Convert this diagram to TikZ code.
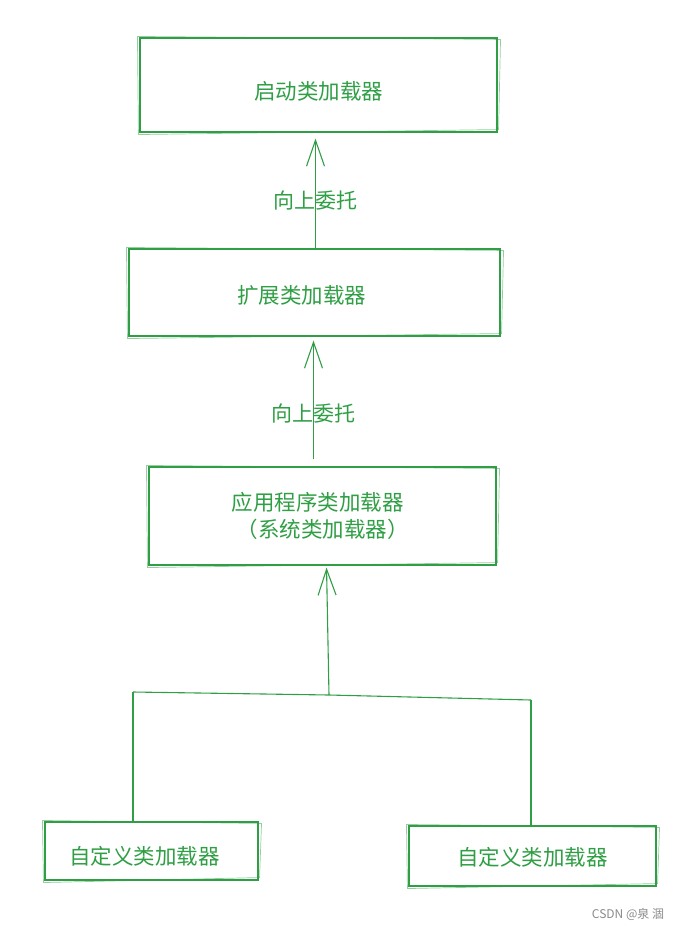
\documentclass[tikz,border=0pt]{standalone}
\usepackage{fontspec}
\newfontfamily\cjk{Noto Sans CJK SC}
\usetikzlibrary{arrows.meta,positioning,calc}
\definecolor{sketch}{HTML}{2F9E44}
\definecolor{wmgray}{HTML}{8A8A8A}
\tikzset{
  box/.style={draw=sketch, line width=1.1pt, align=center, text=sketch,
              font=\cjk\fontsize{21.5}{27}\selectfont, inner sep=0pt},
  rough/.style={draw=sketch, line width=0.7pt, opacity=0.5},
  ar/.style={-{Straight Barb[length=26pt, width=18pt]}, line width=1.1pt, draw=sketch},
  ln/.style={line width=1.1pt, draw=sketch},
  lbl/.style={text=sketch, font=\cjk\fontsize{21}{24}\selectfont}
}
% second, slightly skewed stroke round a box
\newcommand{\roughbox}[1]{%
  \draw[rough] ([shift={(-2,-1)}]#1.north west) -- ([shift={(3,2)}]#1.north east)
    -- ([shift={(1,-3)}]#1.south east) -- ([shift={(-1,2)}]#1.south west) -- cycle;}
% move a text down without changing its size
\newcommand{\sinktext}[2]{\raisebox{-#1}[\height][\depth]{#2}}

\begin{document}
\begin{tikzpicture}[x=1pt,y=-1pt]
  \useasboundingbox (0,0) rectangle (682,930);

  % loaders
  \node[box, minimum width=357, minimum height=94] (boot) at (318.5,85)
    {\sinktext{6pt}{启动类加载器}};
  \node[box, minimum width=371, minimum height=87] (ext) at (314.5,292.5)
    {\hspace*{-26pt}\sinktext{3pt}{扩展类加载器}};
  \node[box, minimum width=347, minimum height=98] (app) at (322.5,516)
    {\hspace*{-10pt}应用程序类加载器\\（系统类加载器）};
  \node[box, minimum width=213, minimum height=58] (custa) at (151.5,851)
    {\hspace*{-14pt}\sinktext{5pt}{自定义类加载器}};
  \node[box, minimum width=247, minimum height=60] (custb) at (532.5,856)
    {\sinktext{1pt}{自定义类加载器}};
  \roughbox{boot}
  \roughbox{ext}
  \roughbox{app}
  \roughbox{custa}
  \roughbox{custb}

  % delegation upwards
  \draw[ar, shorten >=6pt] ([xshift=1]ext.north) -- ([xshift=-3]boot.south)
    node[lbl, pos=0.41] (up1) {向上委托};
  \draw[ar, shorten >=4pt, shorten <=7pt] ([xshift=-9]app.north) -- ([xshift=-1]ext.south)
    node[lbl, pos=0.41] (up2) {向上委托};

  % tree from the custom loaders
  \coordinate (jl) at (133,692);
  \coordinate (jm) at (329,695);
  \coordinate (jr) at (531,700);
  \draw[ln] (jl) -- (jm) -- (jr);
  \draw[ln] (jl) -- (jl |- custa.north);
  \draw[ln] (jr) -- (jr |- custb.north);
  \draw[ar, shorten >=2pt] (jm) -- ([xshift=4]app.south);

  \node[text=wmgray, font=\cjk\fontsize{12}{14}\selectfont] (wm) at (628,914) {CSDN @泉 涸};
\end{tikzpicture}
\end{document}
